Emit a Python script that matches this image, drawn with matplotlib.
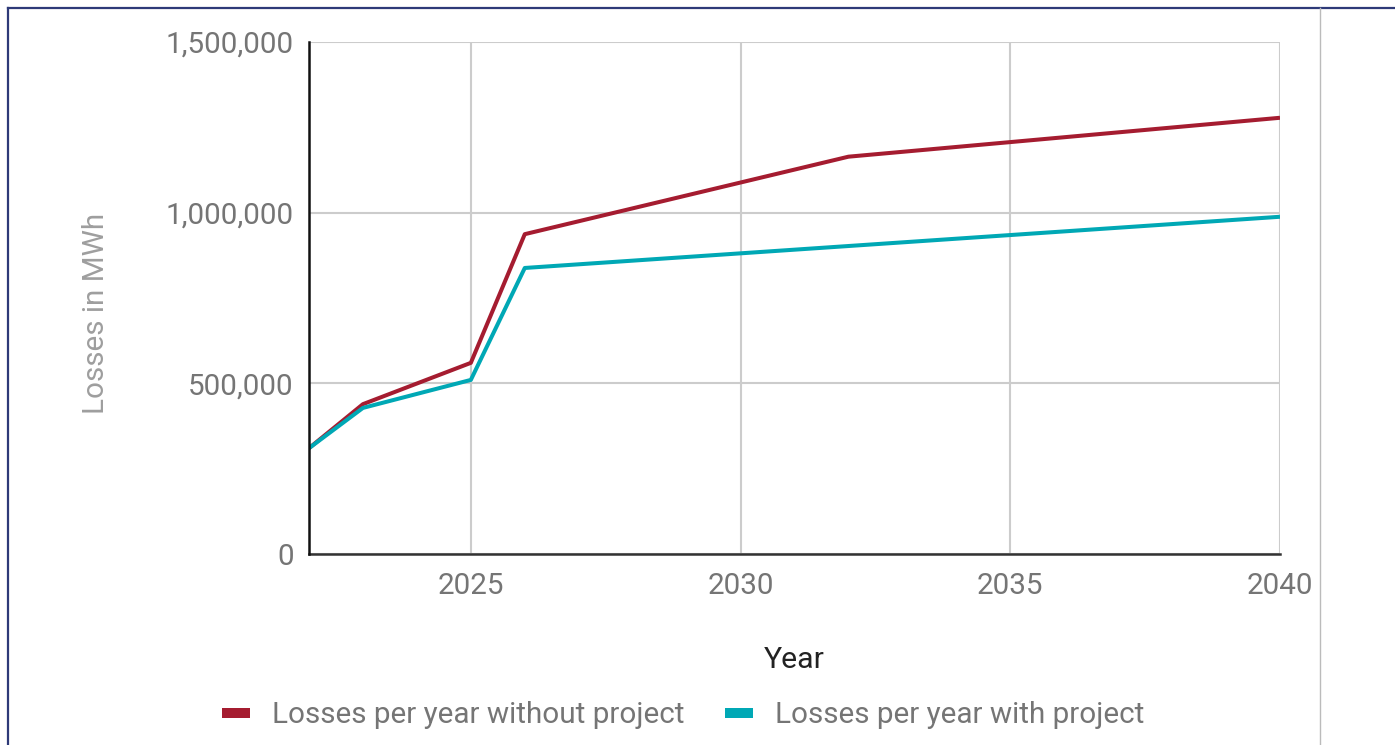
import matplotlib.pyplot as plt
from matplotlib.lines import Line2D
from matplotlib.ticker import FuncFormatter

plt.rcParams['font.family'] = ['Roboto', 'DejaVu Sans']

# data
years_without = [2022, 2023, 2025, 2026, 2032, 2040]
losses_without = [310000, 439000, 560000, 937000, 1164000, 1278000]
years_with = [2022, 2023, 2025, 2026, 2040]
losses_with = [310000, 428000, 510000, 838000, 988000]

red = '#a51c30'
teal = '#00a8b5'

fig = plt.figure(figsize=(13.95, 7.45), dpi=100)
ax = fig.add_axes([309 / 1395, 1 - 554 / 745, (1280 - 309) / 1395, (554 - 42) / 745])

ax.plot(years_without, losses_without, color=red, lw=2.9, solid_capstyle='butt', zorder=3)
ax.plot(years_with, losses_with, color=teal, lw=2.9, solid_capstyle='butt', zorder=3)

ax.set_xlim(2022, 2040)
ax.set_ylim(0, 1500000)
ax.set_xticks([2025, 2030, 2035, 2040])
ax.set_yticks([0, 500000, 1000000, 1500000])
ax.yaxis.set_major_formatter(FuncFormatter(lambda v, p: f'{int(v):,}'))
ax.grid(True, color='#cccccc', lw=1.5, zorder=0)
ax.tick_params(length=0, labelsize=21.3, labelcolor='#757575')
ax.tick_params(axis='x', pad=13)
ax.tick_params(axis='y', pad=11)
for s in ['top', 'right']:
    ax.spines[s].set_visible(False)
ax.spines['left'].set_color('#111111')
ax.spines['bottom'].set_color('#333333')
ax.spines['left'].set_linewidth(1.8)
ax.spines['bottom'].set_linewidth(1.8)
ax.spines['left'].set_zorder(4)

ax.set_xlabel('Year', fontsize=21.8, color='#222222', labelpad=33)
ax.set_ylabel('Losses in MWh', fontsize=21.3, color='#9e9e9e')
ax.yaxis.set_label_coords(-0.205, 0.47)

handles = [Line2D([], [], color=red, lw=7.2, solid_capstyle='butt'),
           Line2D([], [], color=teal, lw=7.2, solid_capstyle='butt')]
fig.legend(handles, ['Losses per year without project', 'Losses per year with project'],
           loc='center', bbox_to_anchor=(683 / 1395, 1 - 715 / 745), ncol=2, frameon=False,
           fontsize=21.3, labelcolor='#757575', handlelength=0.95, handletextpad=0.74,
           columnspacing=1.35)

# page frame
fig.add_artist(Line2D([8 / 1395, 1], [1 - 8 / 745, 1 - 8 / 745], color='#2e3a78', lw=1.6))
fig.add_artist(Line2D([8 / 1395, 8 / 1395], [0, 1 - 8 / 745], color='#2e3a78', lw=1.6))
fig.add_artist(Line2D([1320 / 1395, 1320 / 1395], [0, 1 - 8 / 745], color='#bbbbbb', lw=1))

fig.savefig('out.png', dpi=100)
